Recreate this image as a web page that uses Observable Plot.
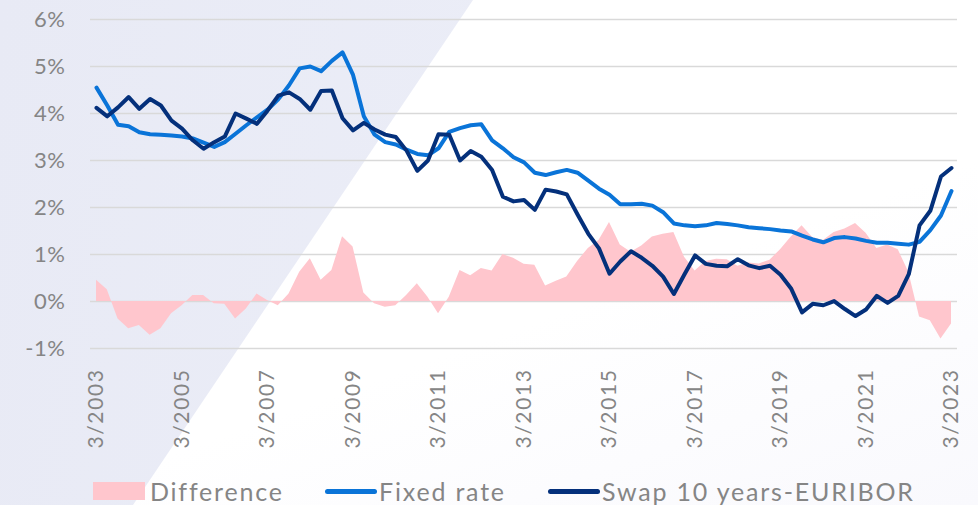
<!DOCTYPE html>
<html>
<head>
<meta charset="utf-8">
<script src="https://cdn.jsdelivr.net/npm/d3@7"></script>
<script src="https://cdn.jsdelivr.net/npm/@observablehq/plot@0.6"></script>
<style>
  html, body { margin: 0; padding: 0; background: #ffffff; }
  #page { position: relative; width: 978px; height: 505px; overflow: hidden; background: linear-gradient(160deg, #ffffff 60%, #f9f9fd 100%); }
  #bg { position: absolute; left: 0; top: 0; width: 978px; height: 505px;
        background: linear-gradient(100deg, #e8eaf5 0%, #eef0f9 100%);
        clip-path: polygon(0 0, 473px 0, 133px 505px, 0 505px); }
  #chart { position: absolute; left: 0; top: 0; }
  #chart svg { background: transparent; }
  #legend { position: absolute; left: 0; top: 478px; width: 978px; height: 26px; font-family: Lato, sans-serif; font-size: 25px; letter-spacing: 1.8px; color: #858585; }
  .item { position: absolute; top: 0; height: 26px; display: flex; align-items: center; white-space: nowrap; }
  .sw-rect { width: 52px; height: 18px; margin-right: 5px; }
  .sw-line { width: 52px; height: 5px; border-radius: 3px; margin-right: 2px; }
  g[aria-label="x-axis tick label"] text { letter-spacing: 1.6px; }
  g[aria-label="y-axis tick label"] text { letter-spacing: 0.6px; }
</style>
</head>
<body>
<div id="page">
  <div id="bg"></div>
  <div id="chart"></div>
  <div id="legend"></div>
</div>
<script>
// Quarterly values, 3/2003 .. 3/2023 (percent)
const fixedRate = [
  4.55, 4.17, 3.76, 3.73, 3.60, 3.56, 3.55, 3.53, 3.51, 3.47,
  3.38, 3.29, 3.39, 3.57, 3.75, 3.92, 4.08, 4.30, 4.60, 4.96,
  5.00, 4.90, 5.12, 5.30, 4.82, 3.94, 3.55, 3.39, 3.34, 3.23,
  3.14, 3.11, 3.26, 3.61, 3.69, 3.75, 3.77, 3.43, 3.26, 3.07,
  2.96, 2.74, 2.69, 2.75, 2.80, 2.74, 2.57, 2.40, 2.27, 2.07,
  2.07, 2.08, 2.04, 1.90, 1.66, 1.62, 1.60, 1.62, 1.67, 1.65,
  1.62, 1.58, 1.56, 1.54, 1.51, 1.49, 1.40, 1.32, 1.26, 1.35,
  1.37, 1.34, 1.29, 1.25, 1.25, 1.23, 1.21, 1.27, 1.52, 1.83,
  2.35
];
const swapEuribor = [
  4.12, 3.94, 4.13, 4.35, 4.10, 4.31, 4.17, 3.85, 3.68, 3.43,
  3.25, 3.39, 3.51, 4.00, 3.89, 3.78, 4.06, 4.38, 4.45, 4.31,
  4.08, 4.48, 4.49, 3.90, 3.64, 3.80, 3.66, 3.55, 3.50, 3.21,
  2.78, 3.00, 3.56, 3.55, 3.00, 3.20, 3.08, 2.80, 2.23, 2.13,
  2.16, 1.95, 2.38, 2.34, 2.28, 1.85, 1.44, 1.13, 0.59, 0.85,
  1.07, 0.93, 0.76, 0.53, 0.16, 0.58, 0.98, 0.80, 0.76, 0.75,
  0.90, 0.77, 0.71, 0.76, 0.57, 0.27, -0.23, -0.05, -0.08, 0.01,
  -0.16, -0.31, -0.17, 0.12, -0.03, 0.12, 0.58, 1.62, 1.93, 2.66,
  2.84
];
const difference = [
  0.45, 0.25, -0.37, -0.58, -0.51, -0.72, -0.58, -0.26, -0.09, 0.13,
  0.13, -0.05, -0.06, -0.37, -0.16, 0.16, 0.02, -0.09, 0.16, 0.62,
  0.91, 0.45, 0.66, 1.38, 1.16, 0.18, -0.05, -0.12, -0.09, 0.13,
  0.38, 0.09, -0.26, 0.09, 0.66, 0.55, 0.70, 0.65, 1.00, 0.92,
  0.79, 0.77, 0.33, 0.43, 0.52, 0.85, 1.13, 1.30, 1.68, 1.20,
  1.05, 1.18, 1.37, 1.43, 1.47, 0.94, 0.65, 0.85, 0.90, 0.89,
  0.75, 0.82, 0.80, 0.88, 1.10, 1.37, 1.61, 1.36, 1.30, 1.47,
  1.54, 1.66, 1.45, 1.13, 1.20, 1.10, 0.62, -0.33, -0.41, -0.80,
  -0.48
];
const tickYears = [2003, 2005, 2007, 2009, 2011, 2013, 2015, 2017, 2019, 2021, 2023];
const yTicks = [-1, 0, 1, 2, 3, 4, 5, 6];
const seriesNames = ["Difference", "Fixed rate", "Swap 10 years-EURIBOR"];
const colors = { diff: "#ffc6cd", fixed: "#0a74d8", swap: "#04307b" };

const start = new Date(Date.UTC(2003, 2, 1));
const rows = fixedRate.map((f, i) => ({
  date: d3.utcMonth.offset(start, 3 * i),
  fixed: f,
  swap: swapEuribor[i],
  diff: difference[i]
}));
const tickDates = tickYears.map(y => new Date(Date.UTC(y, 2, 1)));

const chart = Plot.plot({
  width: 978,
  height: 460,
  marginLeft: 90,
  marginRight: 21,
  marginTop: 19,
  marginBottom: 112,
  style: { background: "transparent", fontFamily: "Lato, sans-serif" },
  x: { type: "utc", domain: [rows[0].date, rows[rows.length - 1].date], inset: 6 },
  y: { domain: [-1, 6] },
  marks: [
    Plot.ruleY(yTicks, { stroke: "#d9d9d9", strokeWidth: 1.6 }),
    Plot.areaY(rows, { x: "date", y: "diff", fill: colors.diff }),
    Plot.lineY(rows, { x: "date", y: "fixed", stroke: colors.fixed, strokeWidth: 4 }),
    Plot.lineY(rows, { x: "date", y: "swap", stroke: colors.swap, strokeWidth: 4 }),
    Plot.axisY({ ticks: yTicks, tickFormat: d => d + "%", tickSize: 0, tickPadding: 25, fontSize: 22, fill: "#858585", label: null }),
    Plot.axisX({ ticks: tickDates, tickFormat: d => "3/" + d.getUTCFullYear(), tickRotate: -90, tickSize: 0, tickPadding: 20, fontSize: 21, fill: "#858585", label: null })
  ]
});
document.getElementById("chart").appendChild(chart);

// Legend
const legend = document.getElementById("legend");
const items = [
  { name: seriesNames[0], kind: "rect", color: colors.diff, left: 93 },
  { name: seriesNames[1], kind: "line", color: colors.fixed, left: 325 },
  { name: seriesNames[2], kind: "line", color: colors.swap, left: 548 }
];
for (const it of items) {
  const d = document.createElement("div");
  d.className = "item";
  d.style.left = it.left + "px";
  const sw = document.createElement("div");
  sw.className = it.kind === "rect" ? "sw-rect" : "sw-line";
  sw.style.background = it.color;
  const t = document.createElement("span");
  t.textContent = it.name;
  d.appendChild(sw);
  d.appendChild(t);
  legend.appendChild(d);
}
</script>
</body>
</html>
